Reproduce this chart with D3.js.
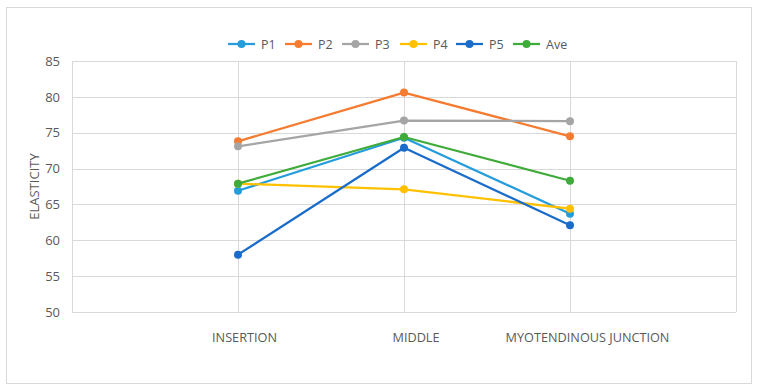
<!DOCTYPE html>
<html><head><meta charset="utf-8">
<script src="https://cdn.jsdelivr.net/npm/d3@7"></script>
<style>body{margin:0;background:#fff;}svg{display:block;font-family:"Open Sans","Liberation Sans",sans-serif;}</style>
</head><body><svg id="c" width="758" height="391"></svg>
<script>
const categories = ["INSERTION", "MIDDLE", "MYOTENDINOUS JUNCTION"];
const seriesNames = ["P1", "P2", "P3", "P4", "P5", "Ave"];
const P1 = [66.9, 74.3, 63.7];
const P2 = [73.8, 80.6, 74.5];
const P3 = [73.1, 76.7, 76.6];
const P4 = [67.9, 67.1, 64.4];
const P5 = [58.0, 72.9, 62.1];
const Ave = [67.9, 74.4, 68.3];
const yTicks = [50, 55, 60, 65, 70, 75, 80, 85];
const colors = ["#259cdc", "#f47b2f", "#a5a5a5", "#ffc000", "#1a6ccb", "#3fab3a"];
const seriesValues = [P1, P2, P3, P4, P5, Ave];

(function () {
const svg = d3.select("#c");
svg.append("rect").attr("x", 6.5).attr("y", 7.5).attr("width", 745).attr("height", 376)
  .attr("fill", "#fff").attr("stroke", "#d9d9d9").attr("stroke-width", 1);

const pL = 72, pR = 736, pT = 61, pB = 312;
const x = d3.scalePoint().domain(["_a", ...categories, "_b"]).range([pL, pR]);
const xLabel = d3.scalePoint().domain(categories).range([244, 587]);
const y = d3.scaleLinear().domain([50, 85]).range([pB, pT]);

const g = svg.append("g");
g.selectAll("line.h").data(yTicks).join("line")
  .attr("x1", pL).attr("x2", pR)
  .attr("y1", d => Math.round(y(d)) + 0.5).attr("y2", d => Math.round(y(d)) + 0.5)
  .attr("stroke", "#d9d9d9").attr("stroke-width", 1);
g.selectAll("line.v").data(x.domain()).join("line")
  .attr("x1", d => Math.round(x(d)) + 0.5).attr("x2", d => Math.round(x(d)) + 0.5)
  .attr("y1", pT).attr("y2", pB)
  .attr("stroke", "#d9d9d9").attr("stroke-width", 1);

const yAxis = d3.axisLeft(y).tickValues(yTicks).tickSize(0).tickPadding(12);
const ya = svg.append("g").attr("transform", `translate(${pL},0)`).call(yAxis);
ya.select(".domain").remove();
ya.selectAll("text").attr("fill", "#595959").style("font-size", "13px").style("font-family", "'Open Sans','Liberation Sans',sans-serif");

const xAxis = d3.axisBottom(xLabel).tickSize(0).tickPadding(21);
const xa = svg.append("g").attr("transform", `translate(0,${pB})`).call(xAxis);
xa.select(".domain").remove();
xa.selectAll("text").attr("fill", "#595959").style("font-size", "12.7px").style("font-family", "'Open Sans','Liberation Sans',sans-serif");

svg.append("text").attr("transform", `translate(39,${(pT + pB) / 2}) rotate(-90)`)
  .attr("text-anchor", "middle").attr("fill", "#595959").style("font-size", "13px").text("ELASTICITY");

const line = d3.line().x((d, i) => x(categories[i])).y(d => y(d));
seriesValues.forEach((vals, si) => {
  const sg = svg.append("g");
  sg.append("path").datum(vals).attr("d", line).attr("fill", "none")
    .attr("stroke", colors[si]).attr("stroke-width", 2.25).attr("stroke-linejoin", "round");
  sg.selectAll("circle").data(vals).join("circle")
    .attr("cx", (d, i) => x(categories[i])).attr("cy", d => y(d)).attr("r", 4)
    .attr("fill", colors[si]);
});

const legendX = [228, 285, 342, 400, 456, 513];
const lg = svg.append("g").attr("transform", "translate(0,44)");
seriesNames.forEach((n, i) => {
  const it = lg.append("g").attr("transform", `translate(${legendX[i]},0)`);
  it.append("line").attr("x1", 0).attr("x2", 27).attr("y1", 0).attr("y2", 0)
    .attr("stroke", colors[i]).attr("stroke-width", 2.25);
  it.append("circle").attr("cx", 13.5).attr("cy", 0).attr("r", 4).attr("fill", colors[i]);
  it.append("text").attr("x", 33).attr("y", 4.5).attr("fill", "#595959").style("font-size", "12.5px").text(n);
});
})();
</script></body></html>
